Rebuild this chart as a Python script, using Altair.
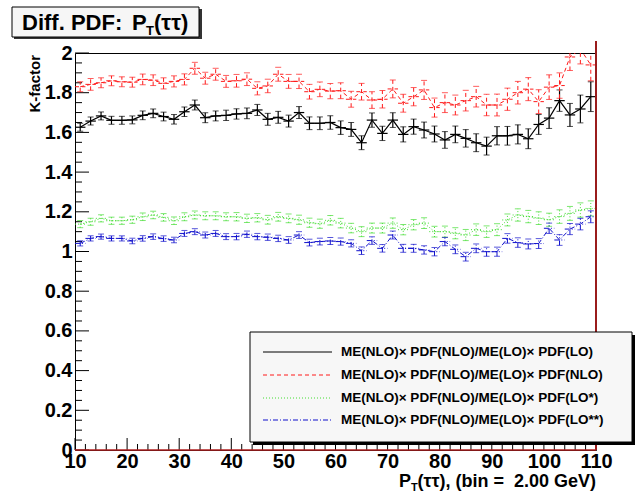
import altair as alt
import pandas as pd

FONT = "Liberation Sans"
W, H = 521, 397

# P_T(tautau) bin centres, 2 GeV bins from 10 to 110 GeV
pt_centres = list(range(11, 111, 2))
bin_half = 1.0

# K-factors per bin, with their statistical errors
k_lo = [1.626, 1.657, 1.683, 1.661, 1.661, 1.663, 1.686, 1.696, 1.680, 1.666,
        1.704, 1.738, 1.674, 1.683, 1.686, 1.693, 1.696, 1.713, 1.666, 1.676,
        1.657, 1.700, 1.646, 1.646, 1.650, 1.624, 1.615, 1.548, 1.662, 1.595,
        1.662, 1.590, 1.629, 1.612, 1.592, 1.562, 1.590, 1.570, 1.548, 1.531,
        1.583, 1.583, 1.590, 1.568, 1.640, 1.672, 1.760, 1.688, 1.718, 1.780]
err_lo = [0.020, 0.020, 0.020, 0.020, 0.020, 0.020, 0.022, 0.022, 0.022, 0.024,
          0.024, 0.025, 0.025, 0.025, 0.026, 0.026, 0.027, 0.028, 0.030, 0.030,
          0.030, 0.030, 0.032, 0.032, 0.034, 0.034, 0.035, 0.035, 0.036, 0.036,
          0.037, 0.038, 0.038, 0.040, 0.040, 0.042, 0.042, 0.044, 0.045, 0.045,
          0.046, 0.047, 0.048, 0.050, 0.050, 0.052, 0.054, 0.058, 0.070, 0.075]

k_nlo = [1.830, 1.842, 1.850, 1.860, 1.855, 1.853, 1.867, 1.863, 1.847, 1.857,
         1.867, 1.923, 1.873, 1.893, 1.857, 1.860, 1.868, 1.822, 1.834, 1.893,
         1.857, 1.857, 1.805, 1.817, 1.808, 1.810, 1.767, 1.805, 1.763, 1.767,
         1.819, 1.747, 1.780, 1.814, 1.725, 1.750, 1.738, 1.760, 1.780, 1.738,
         1.738, 1.767, 1.800, 1.818, 1.755, 1.828, 1.836, 1.980, 2.020, 1.940]
err_nlo = [0.025, 0.030, 0.025, 0.025, 0.025, 0.025, 0.027, 0.027, 0.028, 0.028,
           0.028, 0.030, 0.030, 0.030, 0.030, 0.032, 0.032, 0.033, 0.034, 0.035,
           0.035, 0.036, 0.037, 0.037, 0.038, 0.040, 0.040, 0.042, 0.042, 0.044,
           0.045, 0.045, 0.046, 0.048, 0.048, 0.050, 0.050, 0.052, 0.052, 0.054,
           0.055, 0.056, 0.057, 0.058, 0.060, 0.062, 0.064, 0.068, 0.075, 0.080]

k_lo_star = [1.138, 1.150, 1.167, 1.155, 1.155, 1.160, 1.175, 1.184, 1.172, 1.155,
             1.175, 1.184, 1.180, 1.180, 1.175, 1.175, 1.167, 1.170, 1.160, 1.175,
             1.167, 1.160, 1.145, 1.140, 1.157, 1.143, 1.118, 1.100, 1.118, 1.118,
             1.143, 1.110, 1.135, 1.143, 1.100, 1.100, 1.092, 1.083, 1.110, 1.100,
             1.110, 1.159, 1.184, 1.176, 1.168, 1.160, 1.176, 1.192, 1.209, 1.217]
err_lo_star = [0.018, 0.018, 0.018, 0.018, 0.018, 0.018, 0.019, 0.019, 0.019, 0.019,
               0.020, 0.020, 0.020, 0.020, 0.020, 0.021, 0.021, 0.021, 0.022, 0.022,
               0.022, 0.023, 0.023, 0.023, 0.024, 0.024, 0.024, 0.025, 0.025, 0.025,
               0.026, 0.026, 0.026, 0.027, 0.027, 0.028, 0.028, 0.028, 0.029, 0.029,
               0.030, 0.030, 0.031, 0.031, 0.032, 0.033, 0.034, 0.035, 0.036, 0.038]

k_lo_2star = [1.041, 1.066, 1.075, 1.066, 1.066, 1.053, 1.066, 1.075, 1.065, 1.058,
              1.091, 1.100, 1.083, 1.091, 1.075, 1.075, 1.087, 1.075, 1.072, 1.066,
              1.058, 1.083, 1.045, 1.050, 1.053, 1.050, 1.041, 1.004, 1.055, 1.016,
              1.083, 1.016, 1.016, 1.008, 0.999, 1.050, 1.011, 0.974, 1.016, 0.999,
              0.999, 1.066, 1.045, 1.038, 1.040, 1.117, 1.058, 1.113, 1.138, 1.175]
err_lo_2star = [0.013, 0.013, 0.013, 0.013, 0.013, 0.014, 0.014, 0.014, 0.014, 0.014,
                0.015, 0.015, 0.015, 0.015, 0.015, 0.016, 0.016, 0.016, 0.016, 0.016,
                0.017, 0.017, 0.017, 0.017, 0.018, 0.018, 0.018, 0.019, 0.019, 0.019,
                0.020, 0.020, 0.020, 0.021, 0.021, 0.021, 0.022, 0.022, 0.022, 0.023,
                0.023, 0.024, 0.024, 0.025, 0.025, 0.026, 0.027, 0.028, 0.029, 0.030]

legend_labels = [
    "ME(NLO)\u00d7 PDF(NLO)/ME(LO)\u00d7 PDF(LO)",
    "ME(NLO)\u00d7 PDF(NLO)/ME(LO)\u00d7 PDF(NLO)",
    "ME(NLO)\u00d7 PDF(NLO)/ME(LO)\u00d7 PDF(LO*)",
    "ME(NLO)\u00d7 PDF(NLO)/ME(LO)\u00d7 PDF(LO**)",
]

# axis ticks
x_major = [10, 20, 30, 40, 50, 60, 70, 80, 90, 100, 110]
x_minor = [v for v in range(10, 111, 2) if v % 10 != 0]
y_major = [0, 0.2, 0.4, 0.6, 0.8, 1.0, 1.2, 1.4, 1.6, 1.8, 2.0]
y_minor = [round(0.05 * i, 2) for i in range(41) if i % 4 != 0]

series = [
    dict(label=legend_labels[0], k=k_lo, err=err_lo, color="#000000", dash=None, sw=1.2),
    dict(label=legend_labels[1], k=k_nlo, err=err_nlo, color="#ff1a1a", dash=[4, 3], sw=1.0),
    dict(label=legend_labels[2], k=k_lo_star, err=err_lo_star, color="#44dd33", dash=[1, 2], sw=1.0),
    dict(label=legend_labels[3], k=k_lo_2star, err=err_lo_2star, color="#1010cc", dash=[5, 2, 1, 2], sw=1.0),
]

xs = alt.Scale(domain=[10, 110], nice=False, zero=False)
ys = alt.Scale(domain=[0, 2], nice=False, zero=False)

xaxis = alt.Axis(values=x_major, title=None, ticks=False, domain=False, grid=False,
                 labelFont=FONT, labelFontWeight="bold", labelFontSize=20,
                 labelColor="black", labelPadding=1, labelFlush=False, labelOverlap=False)
yaxis = alt.Axis(values=y_major, title=None, ticks=False, domain=False, grid=False,
                 format="~g", labelFont=FONT, labelFontWeight="bold", labelFontSize=20,
                 labelColor="black", labelPadding=3, labelFlush=False, labelOverlap=False)


def X(field):
    return alt.X(field, type="quantitative", scale=xs, axis=xaxis)


def Y(field):
    return alt.Y(field, type="quantitative", scale=ys, axis=yaxis)


one = pd.DataFrame({"k": [0]})
layers = []

# inner ticks along the x axis
xt_major = pd.DataFrame({"t": x_major})
xt_minor = pd.DataFrame({"t": x_minor})
layers.append(alt.Chart(xt_major).mark_rule(color="black", strokeWidth=1).encode(
    x=X("t"), y=alt.value(H), y2=alt.value(H - 12)))
layers.append(alt.Chart(xt_minor).mark_rule(color="black", strokeWidth=1).encode(
    x=X("t"), y=alt.value(H), y2=alt.value(H - 6)))

# inner ticks along the y axis
yt_major = pd.DataFrame({"t": y_major})
yt_minor = pd.DataFrame({"t": y_minor})
layers.append(alt.Chart(yt_major).mark_rule(color="black", strokeWidth=1).encode(
    y=Y("t"), x=alt.value(0), x2=alt.value(14)))
layers.append(alt.Chart(yt_minor).mark_rule(color="black", strokeWidth=1).encode(
    y=Y("t"), x=alt.value(0), x2=alt.value(7)))

# data series: connecting line, error bars, bin-width bars and caps
for s in series:
    df = pd.DataFrame({
        "pt": pt_centres,
        "k": s["k"],
        "lo": [v - e for v, e in zip(s["k"], s["err"])],
        "hi": [v + e for v, e in zip(s["k"], s["err"])],
        "xl": [c - bin_half for c in pt_centres],
        "xh": [c + bin_half for c in pt_centres],
    })
    style = dict(color=s["color"], strokeWidth=s["sw"], clip=True)
    if s["dash"] is not None:
        style["strokeDash"] = s["dash"]
    base = alt.Chart(df)
    layers.append(base.mark_line(**style).encode(x=X("pt"), y=Y("k")))
    layers.append(base.mark_rule(**style).encode(x=X("pt"), y=Y("lo"), y2=alt.Y2("hi")))
    layers.append(base.mark_rule(**style).encode(x=X("xl"), x2=alt.X2("xh"), y=Y("k")))
    for end in ("lo", "hi"):
        layers.append(base.mark_tick(color=s["color"], orient="horizontal", size=6,
                                     thickness=1, clip=True).encode(x=X("pt"), y=Y(end)))

# histogram outline drawn in dark red on the right edge and along zero
edge = pd.DataFrame({"x": [110], "y": [0]})
layers.append(alt.Chart(edge).mark_rule(color="#9a1c1c", strokeWidth=2).encode(
    x=X("x"), y=Y("y"), y2=alt.value(-12)))
base_line = pd.DataFrame({"x": [10], "x2": [110], "y": [0]})
layers.append(alt.Chart(base_line).mark_rule(color="#b02020", strokeWidth=1.5).encode(
    x=X("x"), x2=alt.X2("x2"), y=Y("y")))

# title box
layers.append(alt.Chart(one).mark_rect(fill="#333333").encode(
    x=alt.value(-61), x2=alt.value(127), y=alt.value(-44), y2=alt.value(-14)))
layers.append(alt.Chart(one).mark_rect(fill="#f6f6f6", stroke="black", strokeWidth=1).encode(
    x=alt.value(-63), x2=alt.value(124), y=alt.value(-46), y2=alt.value(-16)))
title_font = dict(font=FONT, fontWeight="bold", color="black", baseline="alphabetic", align="left")
layers.append(alt.Chart(one).mark_text(fontSize=22, **title_font).encode(
    x=alt.value(-53), y=alt.value(-23), text=alt.value("Diff. PDF:")))
layers.append(alt.Chart(one).mark_text(fontSize=22, **title_font).encode(
    x=alt.value(57), y=alt.value(-23), text=alt.value("P")))
layers.append(alt.Chart(one).mark_text(fontSize=13, **title_font).encode(
    x=alt.value(71), y=alt.value(-18), text=alt.value("T")))
layers.append(alt.Chart(one).mark_text(fontSize=22, **title_font).encode(
    x=alt.value(79), y=alt.value(-23), text=alt.value("(\u03c4\u03c4)")))

# axis titles
layers.append(alt.Chart(one).mark_text(font=FONT, fontWeight="bold", fontSize=15, color="black",
                                       angle=270, align="right", baseline="middle").encode(
    x=alt.value(-40), y=alt.value(2), text=alt.value("K-factor")))
layers.append(alt.Chart(one).mark_text(fontSize=18, **dict(title_font, align="right")).encode(
    x=alt.value(W), y=alt.value(434), text=alt.value("(\u03c4\u03c4), (bin =\u00a0 2.00 GeV)")))
layers.append(alt.Chart(one).mark_text(fontSize=11, **title_font).encode(
    x=alt.value(336), y=alt.value(438), text=alt.value("T")))
layers.append(alt.Chart(one).mark_text(fontSize=18, **title_font).encode(
    x=alt.value(324), y=alt.value(434), text=alt.value("P")))

# legend box
layers.append(alt.Chart(one).mark_rect(fill="black").encode(
    x=alt.value(178), x2=alt.value(560), y=alt.value(282), y2=alt.value(392)))
layers.append(alt.Chart(one).mark_rect(fill="#f7f7f7", stroke="black", strokeWidth=1).encode(
    x=alt.value(175), x2=alt.value(557), y=alt.value(279), y2=alt.value(389)))
row_y = [299, 322, 345, 367]
for s, ry in zip(series, row_y):
    sty = dict(color=s["color"], strokeWidth=1)
    if s["dash"] is not None:
        sty["strokeDash"] = s["dash"]
    layers.append(alt.Chart(one).mark_rule(**sty).encode(
        x=alt.value(188), x2=alt.value(257), y=alt.value(ry)))
    layers.append(alt.Chart(one).mark_text(font=FONT, fontWeight="bold", fontSize=13.5,
                                           color="black", align="left", baseline="middle").encode(
        x=alt.value(266), y=alt.value(ry), text=alt.value(s["label"])))

chart = alt.layer(*layers).properties(
    width=W, height=H, autosize="none",
    padding={"left": 75, "top": 53, "right": 39, "bottom": 46},
    background="white",
).configure_view(stroke="black", strokeWidth=1)

chart.save("out.html", embed_options={"renderer": "svg", "actions": False})
